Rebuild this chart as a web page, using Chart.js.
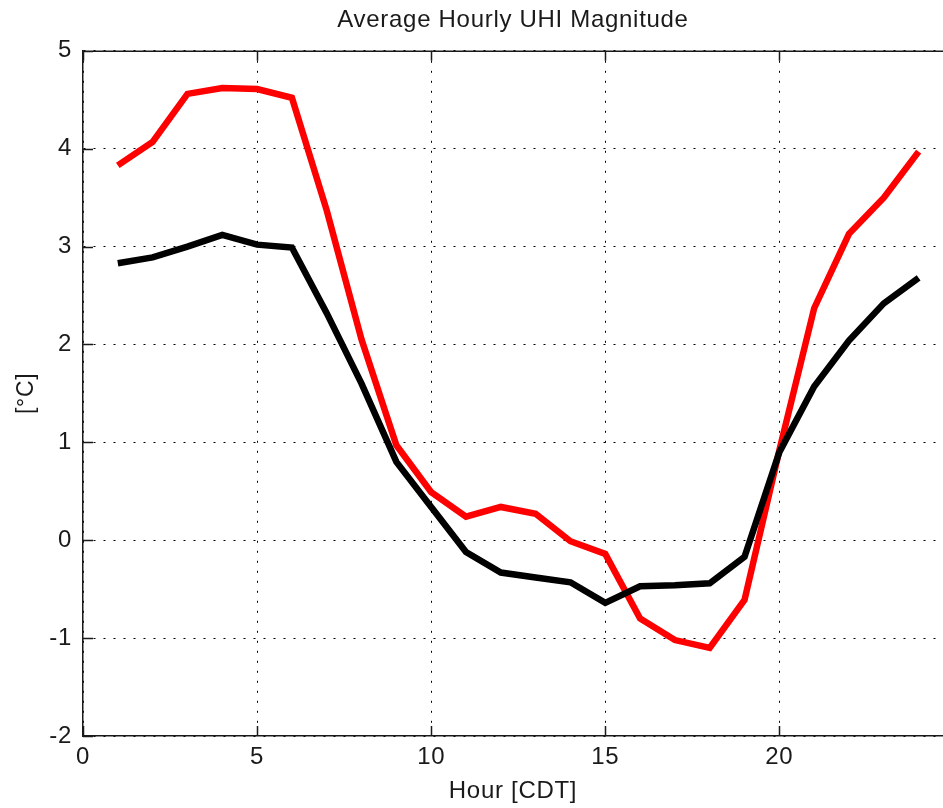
<!DOCTYPE html>
<html>
<head>
<meta charset="utf-8">
<title>Average Hourly UHI Magnitude</title>
<script src="https://cdn.jsdelivr.net/npm/chart.js@4/dist/chart.umd.min.js"></script>
<style>
  html, body { margin: 0; padding: 0; background: #ffffff; overflow: hidden; }
  canvas { display: block; }
</style>
</head>
<body>
<canvas id="uhi" width="943" height="808"></canvas>
<script>
// Hour of day (CDT)
const hours = [1, 2, 3, 4, 5, 6, 7, 8, 9, 10, 11, 12, 13, 14, 15, 16, 17, 18, 19, 20, 21, 22, 23, 24];

// Average UHI magnitude per hour [°C]
const uhiRed = [3.83, 4.07, 4.56, 4.62, 4.61, 4.52, 3.37, 2.05, 0.97, 0.49, 0.24, 0.34,
                0.27, -0.01, -0.14, -0.80, -1.02, -1.10, -0.61, 0.92, 2.37, 3.13, 3.50, 3.97];
const uhiBlack = [2.83, 2.89, 3.00, 3.12, 3.02, 2.99, 2.32, 1.60, 0.80, 0.34, -0.12, -0.33,
                  -0.38, -0.43, -0.64, -0.47, -0.46, -0.44, -0.17, 0.90, 1.57, 2.04, 2.42, 2.68];

// Axis ticks and limits
const xTicks = [0, 5, 10, 15, 20];
const yTicks = [-2, -1, 0, 1, 2, 3, 4, 5];
const xLimits = [0, 24.7];
const yLimits = [-2, 5];

const FONT = "'Liberation Sans', Arial, sans-serif";
const INK = '#1a1a1a';

// Slightly looser letter spacing for all canvas text
const spacingPlugin = {
  id: 'spacing',
  beforeInit(chart) { chart.ctx.letterSpacing = '0.7px'; },
  beforeDraw(chart) { chart.ctx.letterSpacing = '0.7px'; }
};

// Box frame: solid top edge plus inward-pointing tick marks on every axis side
const framePlugin = {
  id: 'frame',
  beforeDatasetsDraw(chart) {
    const { ctx, chartArea: a, scales: { x, y } } = chart;
    const len = 10;
    ctx.save();
    ctx.strokeStyle = INK;
    ctx.lineWidth = 1.5;
    ctx.beginPath();
    ctx.moveTo(a.left, a.top + 0.5);
    ctx.lineTo(a.right, a.top + 0.5);
    xTicks.forEach(v => {
      const px = Math.round(x.getPixelForValue(v)) + 0.5;
      ctx.moveTo(px, a.bottom); ctx.lineTo(px, a.bottom - len);
      ctx.moveTo(px, a.top); ctx.lineTo(px, a.top + len);
    });
    yTicks.forEach(v => {
      const py = Math.round(y.getPixelForValue(v)) + 0.5;
      ctx.moveTo(a.left, py); ctx.lineTo(a.left + len, py);
    });
    ctx.stroke();
    ctx.restore();
  }
};

new Chart(document.getElementById('uhi'), {
  type: 'line',
  data: {
    labels: hours,
    datasets: [
      {
        label: 'Black',
        data: hours.map((h, i) => ({ x: h, y: uhiBlack[i] })),
        borderColor: '#000000',
        borderWidth: 6.5,
        pointRadius: 0,
        tension: 0,
        fill: false,
        order: 0
      },
      {
        label: 'Red',
        data: hours.map((h, i) => ({ x: h, y: uhiRed[i] })),
        borderColor: '#ff0000',
        borderWidth: 6.5,
        pointRadius: 0,
        tension: 0,
        fill: false,
        order: 1
      }
    ]
  },
  options: {
    responsive: false,
    animation: false,
    events: [],
    layout: { padding: { left: 0, right: 0, top: 0, bottom: 0 } },
    plugins: {
      legend: { display: false },
      tooltip: { enabled: false },
      title: {
        display: true,
        text: 'Average Hourly UHI Magnitude',
        fullSize: false,
        color: INK,
        font: { family: FONT, size: 24, weight: 'normal' },
        padding: { top: 6, bottom: 16 }
      }
    },
    scales: {
      x: {
        type: 'linear',
        min: xLimits[0],
        max: xLimits[1],
        afterBuildTicks: s => { s.ticks = xTicks.map(v => ({ value: v })); },
        afterFit: s => { s.height = 72; },
        ticks: {
          color: INK,
          font: { family: FONT, size: 24 },
          padding: 7,
          maxRotation: 0,
          callback: v => String(v)
        },
        grid: {
          drawTicks: false,
          color: '#000000',
          lineWidth: 1
        },
        border: { display: true, color: INK, width: 1.5, dash: [2, 8] },
        title: {
          display: true,
          text: 'Hour [CDT]',
          color: INK,
          font: { family: FONT, size: 24 },
          padding: { top: 0, bottom: 2 }
        }
      },
      y: {
        type: 'linear',
        min: yLimits[0],
        max: yLimits[1],
        afterBuildTicks: s => { s.ticks = yTicks.map(v => ({ value: v })); },
        afterFit: s => { s.width = 83; },
        ticks: {
          color: INK,
          font: { family: FONT, size: 24 },
          padding: 11,
          callback: v => String(v)
        },
        grid: {
          drawTicks: false,
          color: '#000000',
          lineWidth: 1
        },
        border: { display: true, color: INK, width: 1.5, dash: [2, 8] },
        title: {
          display: true,
          text: '[°C]',
          color: INK,
          font: { family: FONT, size: 23 },
          padding: { top: 13, bottom: 0 }
        }
      }
    }
  },
  plugins: [spacingPlugin, framePlugin]
});
</script>
</body>
</html>
